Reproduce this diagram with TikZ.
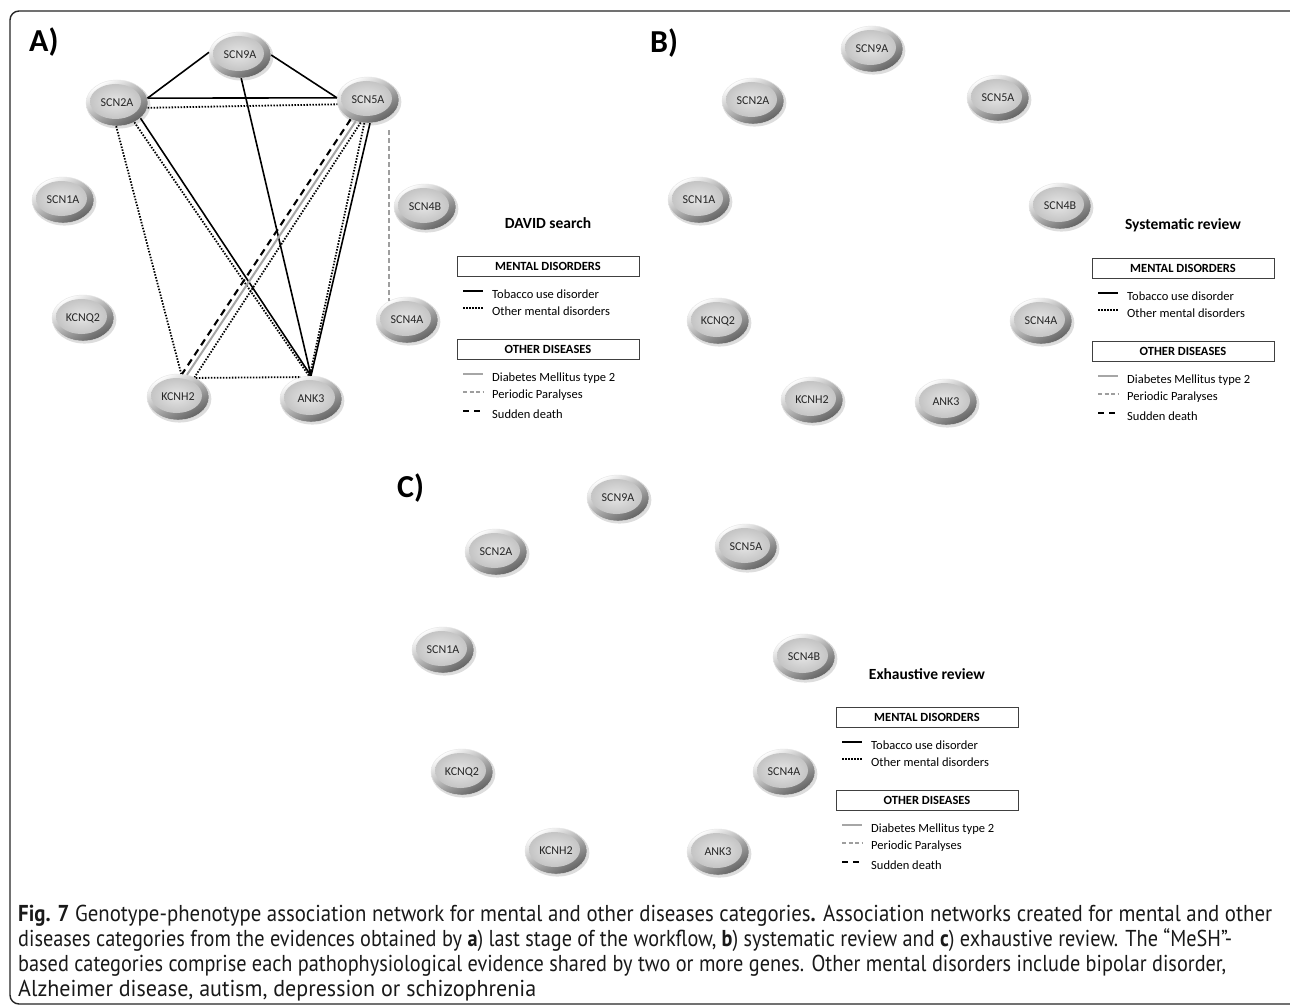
\documentclass[tikz,border=0pt]{standalone}
\usepackage{fontspec}
\usepackage{graphicx}
\setmainfont{Carlito}
\newfontfamily\capfont{PT Sans}
\usetikzlibrary{shapes.geometric,shadows}
\newdimen\capwd
\newcommand\fitline[2]{\settowidth{\capwd}{#2}\scalebox{\fpeval{#1/\capwd}}[1]{#2}}
\tikzset{
  gene/.style={ellipse, minimum width=62pt, minimum height=46pt, inner sep=0pt,
    draw=black!10, line width=0.4pt, font=\fontsize{12}{14}\selectfont, text=black!85,
    drop shadow={shadow xshift=1.4pt, shadow yshift=-1.8pt, opacity=0.22, fill=black!60, shadow scale=1.03},
    path picture={
      \shade[top color=white, bottom color=black!62, shading angle=30]
        (path picture bounding box.south west) rectangle (path picture bounding box.north east);
      \shade[inner color=black!10, outer color=black!23]
        ([xshift=-1.5pt,yshift=1.5pt]path picture bounding box.center) ellipse [x radius=25.5pt, y radius=17.5pt];
    }},
  tob/.style={draw=black, line width=1.6pt},
  othm/.style={draw=black, line width=1.8pt, dash pattern=on 1.5pt off 1.5pt},
  diab/.style={draw=black!35, line width=2pt},
  peri/.style={draw=black!38, line width=1.6pt, dash pattern=on 5pt off 3pt},
  sud/.style={draw=black, line width=2.1pt, dash pattern=on 7pt off 5pt},
  ltitle/.style={font=\bfseries\fontsize{15.5}{18}\selectfont},
  lbox/.style={draw=black!75, line width=0.8pt, minimum width=182pt, minimum height=20pt,
    inner sep=0pt, font=\bfseries\fontsize{12.5}{14}\selectfont},
  litem/.style={anchor=west, inner sep=0pt, font=\fontsize{12.5}{14}\selectfont},
  plabel/.style={anchor=base west, inner sep=0pt, font=\bfseries\fontsize{32}{35}\selectfont},
  capline/.style={anchor=base west, inner sep=0pt, font=\capfont\fontsize{23}{27}\selectfont, text=black!90}
}
\newcommand\legendblock[4]{%
  \begin{scope}[shift={(#2,#3)}]
    \node[ltitle] (#1-title) at (548,223) {#4};
    \node[lbox] (#1-mbox) at (548,266) {MENTAL DISORDERS};
    \coordinate (#1-l1a) at (463,291); \coordinate (#1-l1b) at (483,291);
    \draw[tob, line width=2.2pt] (#1-l1a) -- (#1-l1b);
    \node[litem] (#1-t1) at (492,294) {Tobacco use disorder};
    \coordinate (#1-l2a) at (463,308); \coordinate (#1-l2b) at (483,308);
    \draw[othm] (#1-l2a) -- (#1-l2b);
    \node[litem] (#1-t2) at (492,311.5) {Other mental disorders};
    \node[lbox] (#1-obox) at (548,349.5) {OTHER DISEASES};
    \coordinate (#1-l3a) at (463,374); \coordinate (#1-l3b) at (483,374);
    \draw[diab, line width=1.8pt] (#1-l3a) -- (#1-l3b);
    \node[litem] (#1-t3) at (492,378) {Diabetes Mellitus type 2};
    \coordinate (#1-l4a) at (463,392); \coordinate (#1-l4b) at (483,392);
    \draw[peri, line width=1.5pt, dash pattern=on 4pt off 2.5pt] (#1-l4a) -- (#1-l4b);
    \node[litem] (#1-t4) at (492,395) {Periodic Paralyses};
    \coordinate (#1-l5a) at (463,411); \coordinate (#1-l5b) at (483,411);
    \draw[sud, line width=2.4pt, dash pattern=on 6pt off 5pt] (#1-l5a) -- (#1-l5b);
    \node[litem] (#1-t5) at (492,414) {Sudden death};
  \end{scope}}
\begin{document}
\begin{tikzpicture}[x=1pt, y=-1pt]
\useasboundingbox (0,0) rectangle (1290,1006);
\clip (0,0) rectangle (1290,1006);
\fill[white] (0,0) rectangle (1290,1006);
\draw[black!85, line width=1.4pt, rounded corners=9pt] (10,11) rectangle (1300,1004);

% panel labels
\node[plabel] (labA) at (29,52) {A)};
\node[plabel] (labB) at (650,53) {B)};
\node[plabel] (labC) at (397,497) {C)};

% panel A nodes
\foreach \gname/\gx/\gy in {SCN9A/240/55, SCN2A/117/103, SCN5A/368/100, SCN1A/63/200,
  SCN4B/425/207, KCNQ2/83/318, SCN4A/407/320, KCNH2/178/397, ANK3/311/399}
  \node[gene] (A-\gname) at (\gx,\gy) {\gname};

% panel B nodes
\foreach \gname/\gx/\gy in {SCN9A/872/49, SCN2A/753/101, SCN5A/998/98, SCN1A/699/200,
  SCN4B/1060/206, KCNQ2/718/321, SCN4A/1041/321, KCNH2/812/400, ANK3/946/402}
  \node[gene] (B-\gname) at (\gx,\gy) {\gname};

% panel C nodes
\foreach \gname/\gx/\gy in {SCN9A/618/498, SCN2A/496/552, SCN5A/746/547, SCN1A/443/650,
  SCN4B/804/657, KCNQ2/462/772, SCN4A/784/772, KCNH2/556/851, ANK3/718/852}
  \node[gene] (C-\gname) at (\gx,\gy) {\gname};

% panel A edges
\draw[tob] (A-SCN9A.175) -- (A-SCN2A.9);
\draw[tob] (A-SCN9A.0) -- (A-SCN5A.176);
\draw[tob] (A-SCN2A.9) -- (A-SCN5A.176);
\draw[othm] (A-SCN2A.-9) -- (A-SCN5A.188);
\draw[tob] (A-SCN9A.273) -- (A-ANK3.north);
\draw[tob] (A-SCN2A.-33) -- (A-ANK3.north);
\draw[othm] (A-SCN2A.-48) -- (A-ANK3.95);
\draw[othm] (A-SCN2A.268) -- (A-KCNH2.82);
\draw[sud] (A-SCN5A.228) -- (A-KCNH2.80);
\draw[diab] (A-SCN5A.240) -- (A-KCNH2.68);
\draw[othm] (A-SCN5A.252) -- (A-KCNH2.50);
\draw[othm] (A-SCN5A.261) -- (A-ANK3.93);
\draw[tob] (A-SCN5A.275) -- (A-ANK3.north);
\draw[othm] (A-KCNH2.47) -- (A-ANK3.115);
\draw[peri, shorten <=7pt] (A-SCN5A.south -| A-SCN4A.133) -- (A-SCN4A.133);

% legends
\legendblock{LA}{0}{0}{DAVID search}
\legendblock{LB}{635}{2}{Systematic review}
\legendblock{LC}{379}{451}{Exhaustive review}

% caption
\node[capline] (cap1) at (18,921) {\fitline{1254}{\textbf{Fig. 7} Genotype-phenotype association network for mental and other diseases categories\textbf{.} Association networks created for mental and other}};
\node[capline] (cap2) at (18,946) {\fitline{1214}{diseases categories from the evidences obtained by \textbf{a}) last stage of the workflow, \textbf{b}) systematic review and \textbf{c}) exhaustive review. The “MeSH”-}};
\node[capline] (cap3) at (18,971) {\fitline{1208}{based categories comprise each pathophysiological evidence shared by two or more genes. Other mental disorders include bipolar disorder,}};
\node[capline] (cap4) at (18,996) {\fitline{518}{Alzheimer disease, autism, depression or schizophrenia}};
\end{tikzpicture}
\end{document}
